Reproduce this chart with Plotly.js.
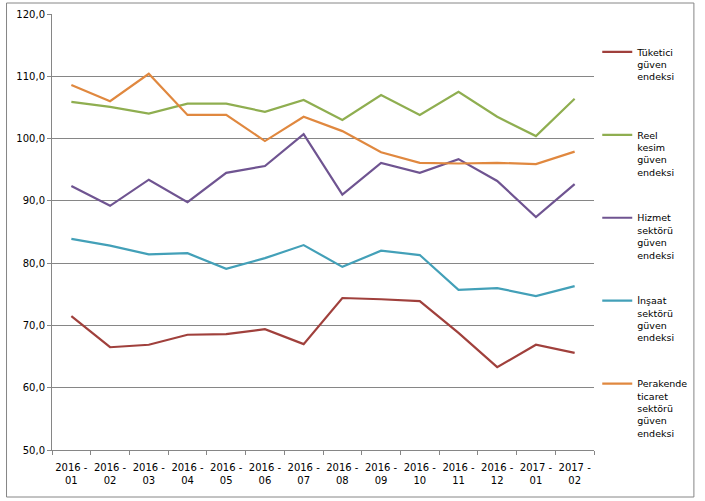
<!DOCTYPE html>
<html>
<head>
<meta charset="utf-8">
<script src="https://cdn.plot.ly/plotly-3.0.1.min.js"></script>
<style>html,body{margin:0;padding:0;background:#fff;}#chart{width:705px;height:501px;}</style>
</head>
<body>
<div id="chart"></div>
<script>
var months = ["2016 -<br>01","2016 -<br>02","2016 -<br>03","2016 -<br>04","2016 -<br>05","2016 -<br>06","2016 -<br>07","2016 -<br>08","2016 -<br>09","2016 -<br>10","2016 -<br>11","2016 -<br>12","2017 -<br>01","2017 -<br>02"];
var tuketici = [71.5,66.5,66.9,68.5,68.6,69.4,67.0,74.4,74.2,73.9,68.8,63.3,66.9,65.6];
var reelKesim = [105.9,105.1,104.0,105.6,105.6,104.3,106.2,103.0,107.0,103.8,107.5,103.5,100.4,106.4];
var hizmet = [92.4,89.2,93.4,89.8,94.5,95.6,100.7,91.0,96.1,94.5,96.7,93.2,87.4,92.7];
var insaat = [83.9,82.8,81.4,81.6,79.1,80.8,82.9,79.4,82.0,81.3,75.7,76.0,74.7,76.3];
var perakende = [108.6,106.0,110.4,103.8,103.8,99.6,103.5,101.2,97.8,96.1,96.0,96.1,95.9,97.9];
var seriesNames = ["Tüketici<br>güven<br>endeksi<br> ","Reel<br>kesim<br>güven<br>endeksi","Hizmet<br>sektörü<br>güven<br>endeksi","İnşaat<br>sektörü<br>güven<br>endeksi","Perakende<br>ticaret<br>sektörü<br>güven<br>endeksi"];
var seriesData = [tuketici, reelKesim, hizmet, insaat, perakende];
var colors = ["#A0403C","#8FAE50","#6F5491","#43A0B8","#E0883F"];

var traces = seriesData.map(function(d,i){
  return {x: months, y: d, type:'scatter', mode:'lines', name: seriesNames[i],
    legendgroup: 'g'+i, line:{color: colors[i], width:2.2}};
});

var layout = {
  width:705, height:501,
  margin:{l:52, r:105, t:14, b:51},
  paper_bgcolor:'#fff', plot_bgcolor:'#fff',
  font:{family:'DejaVu Sans, sans-serif', size:10, color:'#000'},
  separators: ',.',
  showlegend:true,
  legend:{x:1.006, xanchor:'left', y:0.942, yanchor:'top', valign:'top', tracegroupgap:30.5,
    font:{size:9.5, color:'#000'}, bgcolor:'rgba(0,0,0,0)'},
  xaxis:{type:'category', range:[-0.5,13.5], tickson:'boundaries', ticks:'outside', ticklen:4, tickcolor:'#868686',
    showline:true, linecolor:'#868686', linewidth:1, showgrid:false, tickangle:0,
    ticklabelstandoff:8, tickfont:{size:10}, fixedrange:true},
  yaxis:{range:[50,120], dtick:10, tickformat:'.1f', ticks:'outside', ticklen:4, tickcolor:'#868686',
    showline:true, linecolor:'#868686', linewidth:1, showgrid:true, gridcolor:'#868686', gridwidth:1,
    zeroline:false, tickfont:{size:10}, fixedrange:true},
  shapes:[{type:'rect', xref:'paper', yref:'paper', x0:-0.0839, x1:1.1843, y0:-0.1078, y1:1.0252,
    line:{color:'#868686', width:1}}]
};
Plotly.newPlot('chart', traces, layout, {displayModeBar:false, staticPlot:true});
</script>
</body>
</html>
